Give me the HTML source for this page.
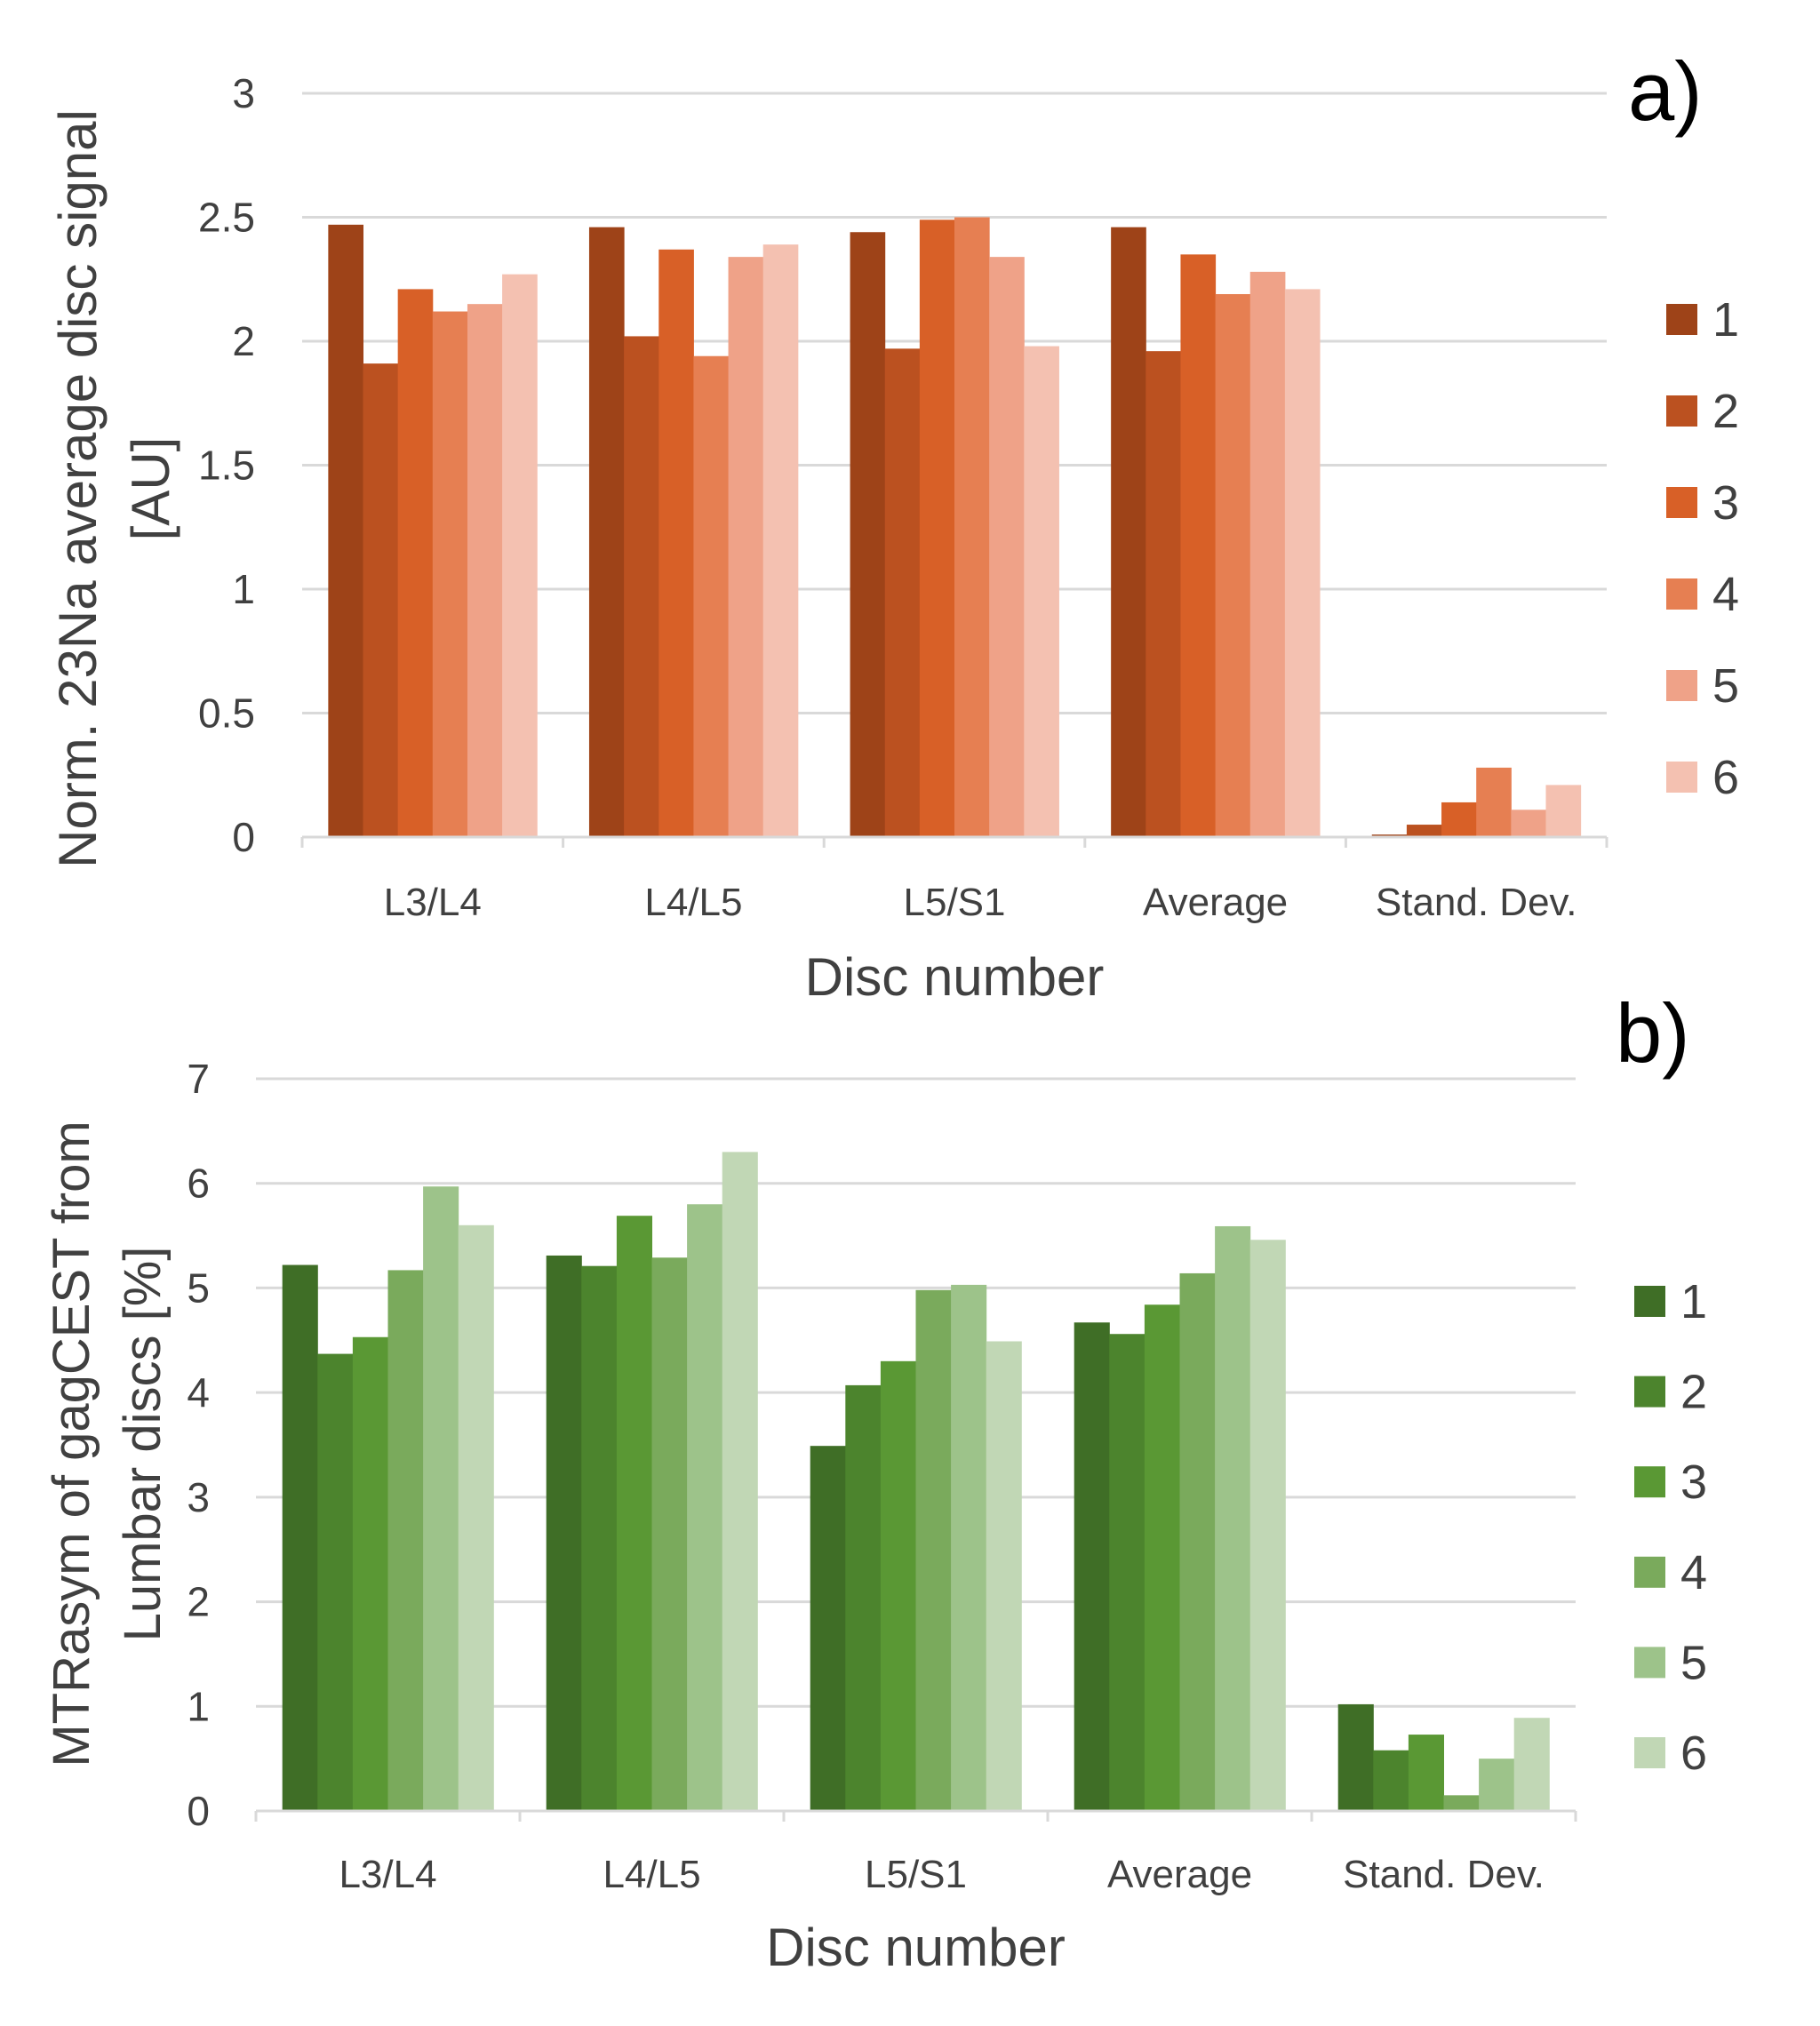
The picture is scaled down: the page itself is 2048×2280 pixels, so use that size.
<!DOCTYPE html>
<html><head><meta charset="utf-8"><style>
html,body{margin:0;padding:0;background:#fff;}
svg{display:block;font-family:"Liberation Sans",sans-serif;}
</style></head><body>
<svg id="fig" width="2048" height="2280" viewBox="0 0 2048 2280"></svg>
<script>
const categories = ["L3/L4","L4/L5","L5/S1","Average","Stand. Dev."];
const seriesNames = ["1","2","3","4","5","6"];
const naS1 = [2.47,2.46,2.44,2.46,0.01];
const naS2 = [1.91,2.02,1.97,1.96,0.05];
const naS3 = [2.21,2.37,2.49,2.35,0.14];
const naS4 = [2.12,1.94,2.50,2.19,0.28];
const naS5 = [2.15,2.34,2.34,2.28,0.11];
const naS6 = [2.27,2.39,1.98,2.21,0.21];
const naTicks = ["0","0.5","1","1.5","2","2.5","3"];
const gagS1 = [5.22,5.31,3.49,4.67,1.02];
const gagS2 = [4.37,5.21,4.07,4.56,0.58];
const gagS3 = [4.53,5.69,4.30,4.84,0.73];
const gagS4 = [5.17,5.29,4.98,5.14,0.15];
const gagS5 = [5.97,5.80,5.03,5.59,0.50];
const gagS6 = [5.60,6.30,4.49,5.46,0.89];
const gagTicks = ["0","1","2","3","4","5","6","7"];

const NS="http://www.w3.org/2000/svg";
const svg=document.getElementById('fig');
function mk(tag,attrs,parent,text){const e=document.createElementNS(NS,tag);for(const k in attrs)e.setAttribute(k,attrs[k]);if(text!==undefined)e.textContent=text;(parent||svg).appendChild(e);return e;}

function chart(o){
  const g=mk('g',{});
  
  
  const yMax=parseFloat(o.ticks[o.ticks.length-1]);
  const y=v=>o.y0-(v/yMax)*(o.y0-o.yTop);
  const gw=(o.x1-o.x0)/categories.length;
  const x=(ci,si)=>o.x0+ci*gw+gw*0.1+si*gw*0.8/6;
  const bw=gw*0.8/6;
  o.ticks.forEach(t=>{
    const v=parseFloat(t);
    if(v>0){const l=mk('line',{x1:o.x0,x2:o.x1,y1:y(v),y2:y(v),stroke:'#d9d9d9','stroke-width':3},g);
    }
    const tx=mk('text',{x:o.tickX,y:y(v)+16,'text-anchor':'end','font-size':46,fill:'#404040'},g,t);
    
  });
  o.series.forEach((s,si)=>{
    s.forEach((v,ci)=>{
      const r=mk('rect',{x:x(ci,si),y:y(v),width:bw+0.5,height:o.y0-y(v),fill:o.colors[si]},g);
      
      
    });
  });
  const ax=mk('line',{x1:o.x0,x2:o.x1,y1:o.y0,y2:o.y0,stroke:'#d9d9d9','stroke-width':3},g);
  
  for(let i=0;i<=categories.length;i++){
    const t=mk('line',{x1:o.x0+i*gw,x2:o.x0+i*gw,y1:o.y0,y2:o.y0+12,stroke:'#d9d9d9','stroke-width':3},g);
    
  }
  categories.forEach((c,ci)=>{
    const t=mk('text',{x:o.x0+ci*gw+gw/2,y:o.catY,'text-anchor':'middle','font-size':44,fill:'#404040'},g,c);
    
  });
  const xt=mk('text',{x:(o.x0+o.x1)/2,y:o.xTitleY,'text-anchor':'middle','font-size':60,fill:'#404040'},g,'Disc number');
  
  o.yTitle.forEach((line,i)=>{
    const cx=o.yTitleX[i];
    const t=mk('text',{x:cx,y:o.yTitleY,'text-anchor':'middle','font-size':o.yFont,fill:'#404040',transform:`rotate(-90 ${cx} ${o.yTitleY})`},g,line);
    
  });
  const p=mk('text',{x:o.panelX,y:o.panelY,'font-size':94,fill:'#000'},g,o.panel);
  
  seriesNames.forEach((n,i)=>{
    const cy=o.legY0+i*o.legStep;
    const r=mk('rect',{x:o.legX,y:cy-17,width:35,height:35,fill:o.colors[i]},g);
    
    const t=mk('text',{x:o.legX+52,y:cy+19,'font-size':54,fill:'#404040'},g,n);
    
  });
}

chart({name:'chart-a',ticks:naTicks,series:[naS1,naS2,naS3,naS4,naS5,naS6],
  colors:['#9E4318','#BB5120','#D86027','#E67F52','#EFA288','#F4C1B1'],
  x0:340,x1:1808,y0:942,yTop:105,tickX:287,catY:1030,xTitleY:1120,yFont:60,
  yTitle:['Norm. 23Na average disc signal','[AU]'],yTitleX:[108,190],yTitleY:550,
  panel:'a)',panelX:1832,panelY:135,legX:1875,legY0:359,legStep:103});
chart({name:'chart-b',ticks:gagTicks,series:[gagS1,gagS2,gagS3,gagS4,gagS5,gagS6],
  colors:['#3F6E26','#4C842D','#5A9834','#7AAA5C','#9DC38A','#C1D7B5'],
  x0:288,x1:1773,y0:2038,yTop:1214,tickX:236,catY:2124,xTitleY:2212,yFont:58,
  yTitle:['MTRasym of gagCEST from','Lumbar discs [%]'],yTitleX:[100,180],yTitleY:1625,
  panel:'b)',panelX:1818,panelY:1195,legX:1839,legY0:1464,legStep:101.6});
</script>
</body></html>
